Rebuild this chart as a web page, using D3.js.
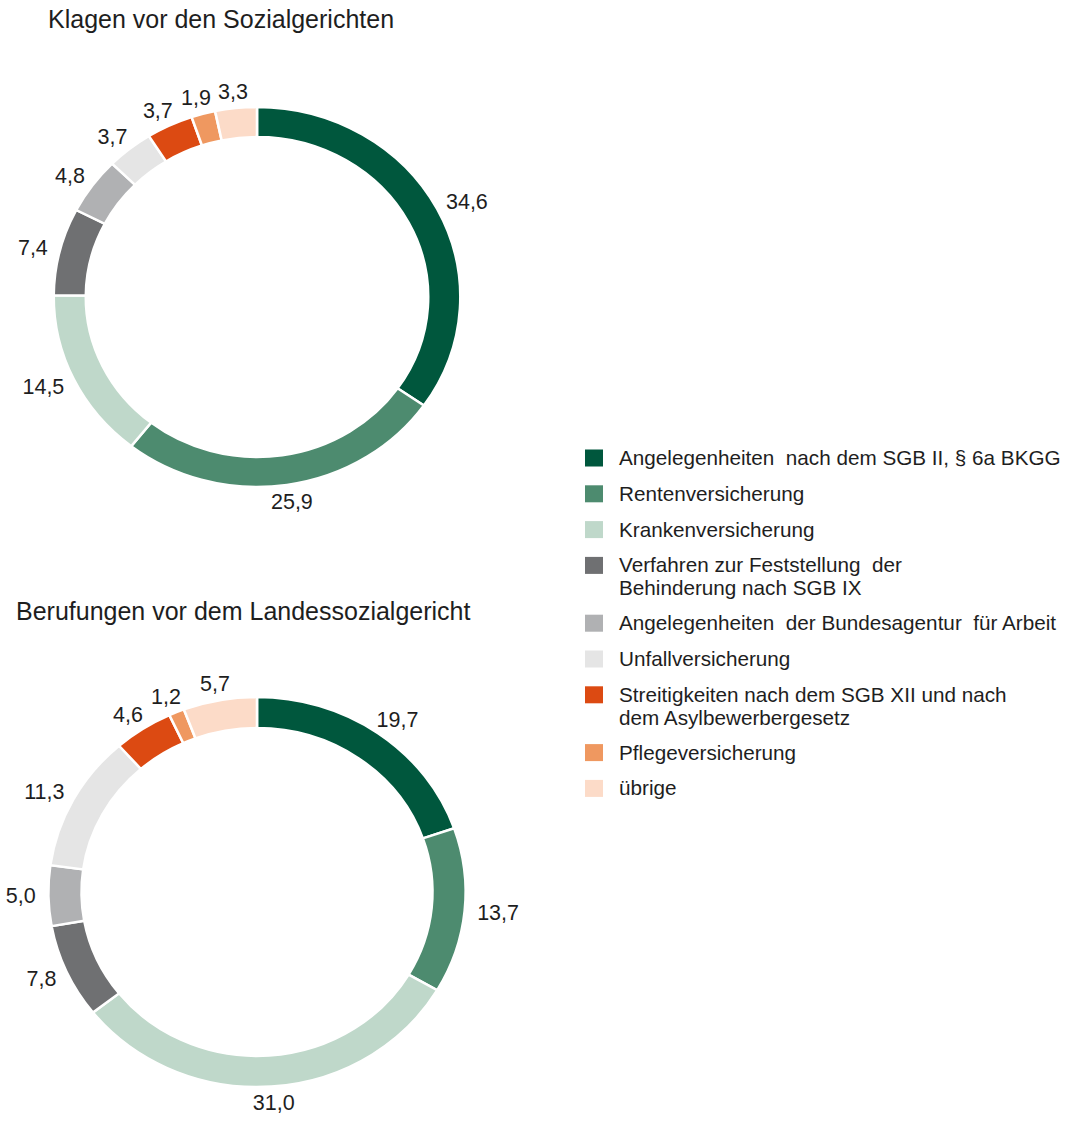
<!DOCTYPE html>
<html>
<head>
<meta charset="utf-8">
<script src="https://cdn.jsdelivr.net/npm/d3@7"></script>
<style>
  body { margin: 0; background: #fff; }
  text { font-family: "Liberation Sans", Arial, sans-serif; fill: #1e1e1e; }
</style>
</head>
<body>
<svg id="chart" width="1074" height="1130"></svg>
<script>
/* Donut charts: Klagen / Berufungen (Sozialgerichtsbarkeit) */

// Data
const categories = [
    "Angelegenheiten nach dem SGB II, § 6a BKGG",
    "Rentenversicherung",
    "Krankenversicherung",
    "Verfahren zur Feststellung der Behinderung nach SGB IX",
    "Angelegenheiten der Bundesagentur für Arbeit",
    "Unfallversicherung",
    "Streitigkeiten nach dem SGB XII und nach dem Asylbewerbergesetz",
    "Pflegeversicherung",
    "übrige"
];
const legendLines = [
    ["Angelegenheiten  nach dem SGB II, § 6a BKGG"],
    ["Rentenversicherung"],
    ["Krankenversicherung"],
    ["Verfahren zur Feststellung  der", "Behinderung nach SGB IX"],
    ["Angelegenheiten  der Bundesagentur  für Arbeit"],
    ["Unfallversicherung"],
    ["Streitigkeiten nach dem SGB XII und nach", "dem Asylbewerbergesetz"],
    ["Pflegeversicherung"],
    ["übrige"]
];
const colours = ["#00573d", "#4d8b6f", "#bfd8ca", "#6f7072", "#b0b1b3", "#e5e5e5", "#dc4a12", "#ef9860", "#fcdbc8"];
const klagenValues = [34.6, 25.9, 14.5, 7.4, 4.8, 3.7, 3.7, 1.9, 3.3];
const berufungenValues = [19.7, 13.7, 31.0, 7.8, 5.0, 11.3, 4.6, 1.2, 5.7];
const titles = ["Klagen vor den Sozialgerichten", "Berufungen vor dem Landessozialgericht"];

// Layout
const stretchX = 1.07;   // the rings are slightly wider than tall
const labelGap = 9;
const capHeight = 15;

const svg = d3.select("#chart");
const de = d3.formatLocale({ decimal: ",", thousands: ".", grouping: [3], currency: ["", " €"] });
const fmt = de.format(".1f");

const pie = d3.pie().sort(null).value(d => d);

function drawDonut(values, cx, cy, outer, thickness, title, titleX, titleY) {
    svg.append("text")
        .attr("x", titleX)
        .attr("y", titleY)
        .style("font-size", "25px")
        .text(title);

    let arc = d3.arc().innerRadius(outer - thickness).outerRadius(outer);
    let arcs = pie(values);

    svg.append("g")
        .attr("transform", "translate(" + cx + "," + cy + ") scale(" + stretchX + ",1)")
        .selectAll("path")
        .data(arcs)
        .enter()
        .append("path")
        .attr("d", arc)
        .attr("fill", (d, i) => colours[i])
        .attr("stroke", "#fff")
        .attr("stroke-width", 2.4);

    // labels just outside the ring, along the slice's middle angle
    let labels = svg.append("g")
        .selectAll("text")
        .data(arcs)
        .enter()
        .append("text")
        .attr("text-anchor", "middle")
        .style("font-size", "21.5px")
        .text(d => fmt(d.data));

    labels.each(function (d) {
        let a = (d.startAngle + d.endAngle) / 2;
        let w = this.getComputedTextLength();
        let r = outer + labelGap;
        let px = cx + r * stretchX * Math.sin(a) + (w / 2 + 3) * Math.sin(a);
        let py = cy - r * Math.cos(a) - (capHeight / 2) * Math.cos(a);
        d3.select(this)
            .attr("x", px)
            .attr("y", py + capHeight / 2);
    });
}

drawDonut(klagenValues, 257, 297, 190, 30, titles[0], 48, 28);
drawDonut(berufungenValues, 257, 892, 195, 31, titles[1], 16, 620);

// Legend
let legend = svg.append("g").attr("transform", "translate(585,0)");
let rowY = 458;
legendLines.forEach(function (lines, i) {
    let item = legend.append("g");
    item.append("rect")
        .attr("x", 0)
        .attr("y", rowY - 8.5)
        .attr("width", 18)
        .attr("height", 17)
        .attr("fill", colours[i]);
    lines.forEach(function (line, j) {
        item.append("text")
            .attr("x", 34)
            .attr("y", rowY + 7 + j * 23)
            .style("font-size", "20.7px")
            .style("white-space", "pre")
            .text(line);
    });
    rowY += 35.8 + (lines.length - 1) * 22;
});
</script>
</body>
</html>
